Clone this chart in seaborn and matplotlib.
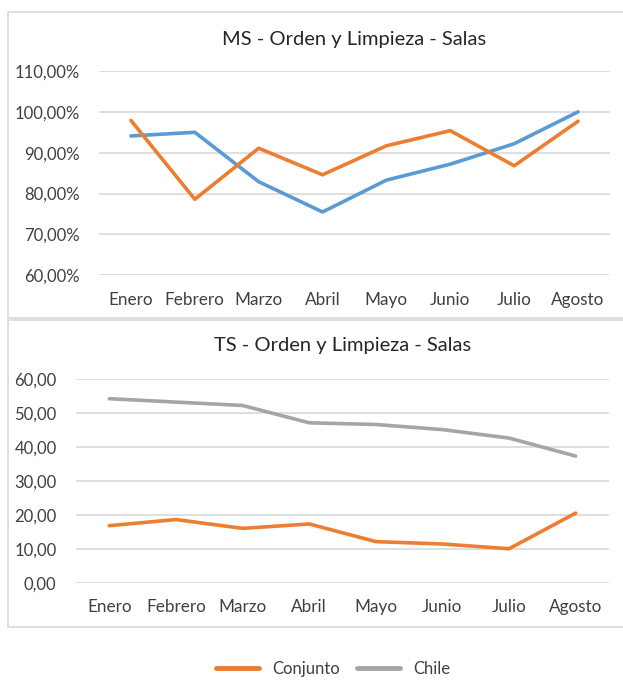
import matplotlib
matplotlib.use("Agg")
import matplotlib.pyplot as plt
from matplotlib.patches import Rectangle
from matplotlib.ticker import FuncFormatter
import pandas as pd
import seaborn as sns

sns.set_style("white")
plt.rcParams["font.family"] = ["Lato", "DejaVu Sans"]

meses = ["Enero", "Febrero", "Marzo", "Abril", "Mayo", "Junio", "Julio", "Agosto"]

# MS - porcentajes
ms_azul = [94.1, 95.0, 82.9, 75.5, 83.3, 87.2, 92.2, 100.0]
ms_conjunto = [97.9, 78.6, 91.1, 84.6, 91.7, 95.4, 86.8, 97.7]

# TS - valores
ts_conjunto = [16.8, 18.6, 16.0, 17.3, 12.1, 11.4, 10.0, 20.5]
ts_chile = [54.2, 53.2, 52.2, 47.1, 46.6, 45.1, 42.6, 37.3]

ms_ticks = [60, 70, 80, 90, 100, 110]
ts_ticks = [0, 10, 20, 30, 40, 50, 60]

naranja = "#ED7D31"
azul = "#5B9BD5"
gris = "#A5A5A5"
rejilla = "#D9D9D9"

W, H = 623, 681
fig = plt.figure(figsize=(W / 100, H / 100), dpi=100)

# cajas de los graficos
for y0, y1 in [(12, 318), (320, 627)]:
    fig.patches.append(Rectangle((8 / W, 1 - y1 / H), (W - 7) / W, (y1 - y0) / H,
                                 transform=fig.transFigure, fill=False,
                                 edgecolor=rejilla, linewidth=1.2))

ax1 = fig.add_axes([99 / W, 1 - 275.3 / H, 511 / W, 204.3 / H])
ax2 = fig.add_axes([76 / W, 1 - 582.7 / H, 533 / W, 203.7 / H])

df_ms = pd.DataFrame({"mes": meses * 2,
                      "valor": ms_azul + ms_conjunto,
                      "serie": ["MS"] * 8 + ["Conjunto"] * 8})
df_ts = pd.DataFrame({"mes": meses * 2,
                      "valor": ts_conjunto + ts_chile,
                      "serie": ["Conjunto"] * 8 + ["Chile"] * 8})

sns.lineplot(data=df_ms, x="mes", y="valor", hue="serie", ax=ax1,
             palette={"MS": azul, "Conjunto": naranja}, linewidth=2.6,
             legend=False, sort=False)
sns.lineplot(data=df_ts, x="mes", y="valor", hue="serie", ax=ax2,
             palette={"Conjunto": naranja, "Chile": gris}, linewidth=2.6,
             legend=False, sort=False)

ax1.set_ylim(60, 110)
ax1.set_yticks(ms_ticks)
ax1.yaxis.set_major_formatter(FuncFormatter(lambda v, p: f"{v:.2f}%".replace(".", ",")))
ax2.set_ylim(0, 60)
ax2.set_yticks(ts_ticks)
ax2.yaxis.set_major_formatter(FuncFormatter(lambda v, p: f"{v:.2f}".replace(".", ",")))

for ax, titulo, pad in [(ax1, "MS - Orden y Limpieza - Salas", 19),
                        (ax2, "TS - Orden y Limpieza - Salas", 20)]:
    ax.set_xlim(-0.5, 7.5)
    ax.set_xlabel("")
    ax.set_ylabel("")
    for s in ax.spines.values():
        s.set_visible(False)
    ax.grid(axis="y", color=rejilla, linewidth=1.2)
    ax.set_axisbelow(True)
    ax.tick_params(length=0, labelsize=12, colors="#404040")
    ax.tick_params(axis="y", pad=14)
    ax.tick_params(axis="x", pad=12, labelsize=12.3)
    ax.set_title(titulo, fontsize=14.5, color="#262626", pad=pad)

handles = [plt.Line2D([], [], color=naranja, linewidth=3.5),
           plt.Line2D([], [], color=gris, linewidth=3.5)]
fig.legend(handles, ["Conjunto", "Chile"], loc="center", ncol=2,
           bbox_to_anchor=(333 / W, 1 - 669 / H), frameon=False,
           fontsize=12, handlelength=2.6, columnspacing=1.0,
           labelcolor="#404040")

fig.savefig("out.png", dpi=100)
